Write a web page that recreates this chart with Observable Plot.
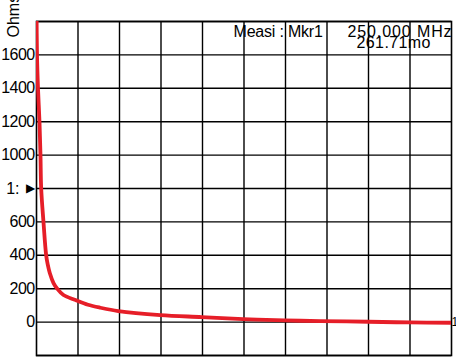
<!DOCTYPE html>
<html>
<head>
<meta charset="utf-8">
<script src="https://cdn.jsdelivr.net/npm/d3@7"></script>
<script src="https://cdn.jsdelivr.net/npm/@observablehq/plot@0.6"></script>
<style>
  html, body { margin: 0; padding: 0; background: #fff; }
  svg { display: block; }
  .ticklbl text { letter-spacing: -0.6px; }
  .mkr2 text { letter-spacing: 0.9px; }
  .mkr1 text { letter-spacing: -0.2px; }
  .mkr3 text { letter-spacing: 0.4px; }
</style>
</head>
<body>
<div id="chart"></div>
<script>
// Frequency in MHz (50 MHz per division, 10 divisions)
const freqMHz = [0, 0.6, 1.8, 3.6, 4.8, 5.65, 8.4, 11.65, 13.5, 16, 20.5, 25, 32.5, 47, 62, 77, 98.5, 149, 199, 249, 299, 342, 400, 450, 500];
// Impedance in Ohms
const ohms =    [1900, 1600, 1400, 1200, 1000, 800, 600, 400, 345, 294, 234, 200, 162, 132, 104, 86, 66, 42, 30, 18, 10, 6, 2, -2, -4];

const yTicks = [0, 200, 400, 600, 1000, 1200, 1400, 1600];
const yGrid = [-200, 0, 200, 400, 600, 800, 1000, 1200, 1400, 1600, 1800];
const xGrid = [50, 100, 150, 200, 250, 300, 350, 400, 450];
const refLevel = [800];
const refLabel = ["1:"];
const markerLines = ["Measi : Mkr1", "250.000 MHz", "261.71mo"];
const yLabel = "Ohms";

const data = freqMHz.map((f, i) => ({f, z: ohms[i]}));
const font = "'Liberation Sans', Arial, sans-serif";

const chart = Plot.plot({
  width: 456,
  height: 357,
  marginLeft: 36,
  marginTop: 21,
  marginRight: 5,
  marginBottom: 2,
  style: {fontFamily: font, fontSize: "16px", color: "#000", background: "#fff", overflow: "visible"},
  x: {domain: [0, 500], axis: null},
  y: {domain: [-200, 1800], axis: null},
  marks: [
    Plot.ruleY(yGrid, {stroke: "#000", strokeWidth: 1.4}),
    Plot.ruleX(xGrid, {stroke: "#000", strokeWidth: 1.4}),
    Plot.frame({stroke: "#000", strokeWidth: 1.6}),
    Plot.text(yTicks, {y: d => d, frameAnchor: "left", text: d => String(d), textAnchor: "end", dx: -2, fontSize: 16, className: "ticklbl"}),
    Plot.text(refLevel, {y: d => d, frameAnchor: "left", text: () => refLabel[0], textAnchor: "end", dx: -17, fontSize: 16}),
    Plot.text(refLevel, {y: d => d, frameAnchor: "left", text: () => "\u25B6", textAnchor: "end", dx: -2, fontSize: 12}),
    Plot.text([yLabel], {frameAnchor: "top-left", text: d => d, rotate: -90, textAnchor: "start", lineAnchor: "bottom", dx: -18, dy: 16, fontSize: 16}),
    Plot.text([0], {x: 500, y: d => d, text: () => "1", textAnchor: "start", dx: 0, fontSize: 12}),
    Plot.line(data, {x: "f", y: "z", stroke: "#e61e28", strokeWidth: 3.8, clip: true, curve: "catmull-rom"}),
    Plot.text([markerLines[0]], {frameAnchor: "top-left", text: d => d, textAnchor: "start", lineAnchor: "top", dx: 197, dy: 4, fontSize: 16, className: "mkr1"}),
    Plot.text([markerLines[1]], {frameAnchor: "top-right", text: d => d, textAnchor: "end", lineAnchor: "top", dx: 1, dy: 4, fontSize: 16, className: "mkr2"}),
    Plot.text([markerLines[2]], {frameAnchor: "top-left", text: d => d, textAnchor: "start", lineAnchor: "top", dx: 320, dy: 15, fontSize: 16, className: "mkr3"})
  ]
});
document.getElementById("chart").appendChild(chart);
</script>
</body>
</html>
